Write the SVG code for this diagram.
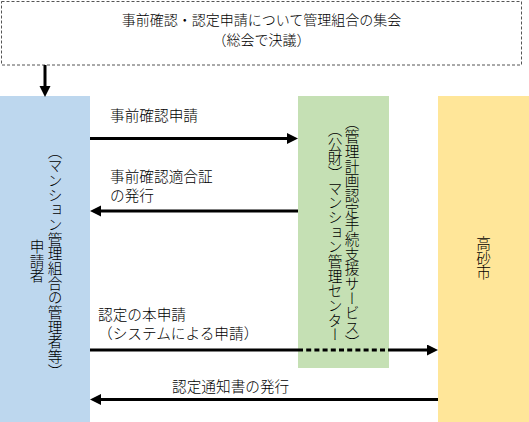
<svg xmlns="http://www.w3.org/2000/svg" width="529" height="422" viewBox="0 0 529 422">
<defs>
<style>
text{font-family:"Noto Sans CJK JP","Noto Sans CJK SC",sans-serif;font-size:14.67px;font-weight:300;fill:#000}
.t{font-size:14px}
.v{writing-mode:vertical-rl;text-anchor:middle}
.c{text-anchor:middle}
.ln{stroke:#000;stroke-width:3;fill:none}
.dot{stroke:#000;stroke-width:3;fill:none;stroke-dasharray:5 3.2}
</style>
<marker id="ah" markerUnits="userSpaceOnUse" markerWidth="12" markerHeight="12" refX="0" refY="5.5" orient="auto">
<path d="M0,0 L11,5.5 L0,11 z" fill="#000"/>
</marker>
</defs>
<rect width="529" height="422" fill="#fff"/>
<g id="meeting">
<rect x="1.5" y="1.5" width="520" height="63.5" fill="#fff" stroke="#555" stroke-width="1" stroke-dasharray="3 2"/>
<text class="c t" x="261.5" y="25">事前確認・認定申請について管理組合の集会</text>
<text class="c t" x="261.5" y="44.5">（総会で決議）</text>
</g>
<g id="applicant">
<rect x="0" y="96" width="90" height="326" fill="#BDD7EE"/>
<text class="v" x="55" y="261">（マンション管理組合の管理者等）</text>
<text class="v" x="37" y="261">申請者</text>
</g>
<g id="center">
<rect x="298" y="96" width="91" height="272" fill="#C5E0B4"/>
<text class="v" x="352" y="232">（管理計画認定手続支援サービス）</text>
<text class="v" x="335" y="232">（公財）マンション管理センター</text>
</g>
<g id="city">
<rect x="438" y="96" width="91" height="326" fill="#FFE699"/>
<text class="v" x="483.5" y="258">高砂市</text>
</g>
<g id="connectors">
<line class="ln" x1="45" y1="65" x2="45" y2="86" marker-end="url(#ah)"/>
<line class="ln" x1="90" y1="138.5" x2="287" y2="138.5" marker-end="url(#ah)"/>
<text x="110" y="121">事前確認申請</text>
<line class="ln" x1="298" y1="211" x2="101" y2="211" marker-end="url(#ah)"/>
<text x="110" y="182">事前確認適合証</text>
<text x="110" y="201">の発行</text>
<line class="ln" x1="90" y1="350" x2="298" y2="350"/>
<line class="dot" x1="298" y1="350" x2="388" y2="350"/>
<line class="ln" x1="388" y1="350" x2="427" y2="350" marker-end="url(#ah)"/>
<text x="98" y="320">認定の本申請</text>
<text x="98" y="339">（システムによる申請）</text>
<line class="ln" x1="438" y1="399.5" x2="101" y2="399.5" marker-end="url(#ah)"/>
<text x="172" y="392">認定通知書の発行</text>
</g>
</svg>
